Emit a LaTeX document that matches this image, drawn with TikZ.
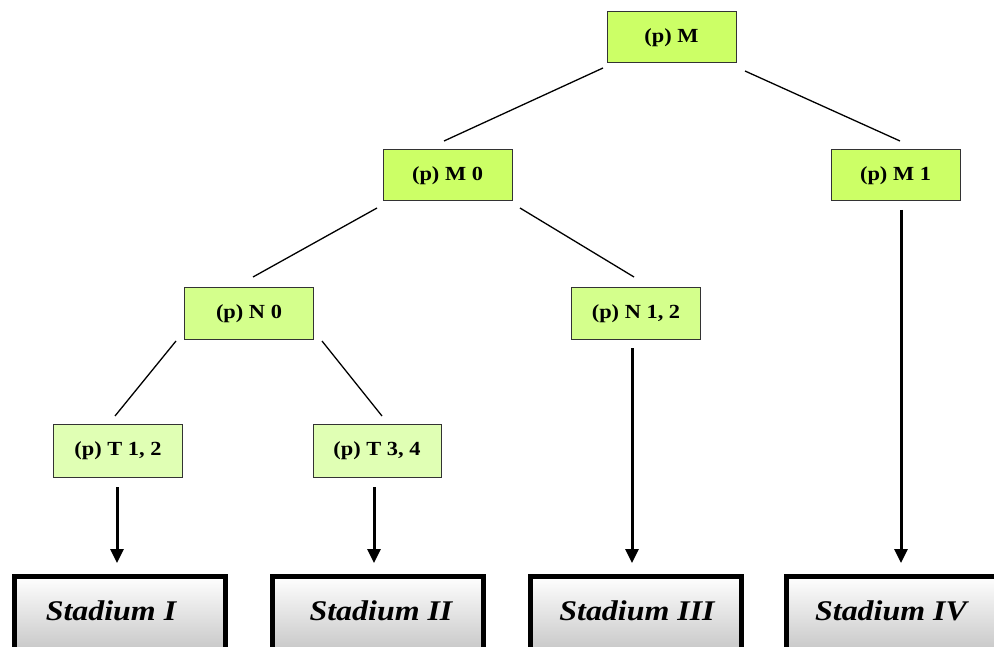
\documentclass[tikz,border=0pt]{standalone}
\usepackage{fontspec}
\setmainfont{Liberation Serif}
\newfontfamily\boxfont[FakeStretch=1.12]{Liberation Serif}
\usetikzlibrary{arrows.meta}
\definecolor{gM}{RGB}{204,255,102}
\definecolor{gN}{RGB}{212,255,140}
\definecolor{gT}{RGB}{224,255,180}
\tikzset{
  gbox/.style={draw=black!80, line width=1pt, minimum width=129pt, minimum height=51pt, inner sep=0pt,
    font=\boxfont\fontsize{20pt}{22pt}\selectfont\bfseries},
  link/.style={line width=1.3pt},
  arr/.style={line width=3pt, -{Triangle[width=13pt,length=14pt]}},
  stad/.style={draw=black, line width=5pt, top color=white, bottom color=black!32, minimum width=211pt, minimum height=110pt, anchor=north, inner sep=0pt},
  stext/.style={font=\boxfont\fontsize{28.5pt}{30pt}\selectfont\bfseries\itshape}
}
\begin{document}
\begin{tikzpicture}[x=1pt,y=-1pt]
\useasboundingbox (0,0) rectangle (994,647);
\clip (0,0) rectangle (994,647);
\fill[white] (0,0) rectangle (994,647);
% green nodes
\node[gbox, fill=gM] (M) at (671.5,37.5) {\raisebox{-1.5pt}{(p) M}};
\node[gbox, fill=gM] (M0) at (447.5,175.5) {\raisebox{-1.5pt}{(p) M 0}};
\node[gbox, fill=gM] (M1) at (895.5,175.5) {\raisebox{-1.5pt}{(p) M 1}};
\node[gbox, fill=gN] (N0) at (249,313.5) {\raisebox{-1.5pt}{(p) N 0}};
\node[gbox, fill=gN] (N12) at (636,313.5) {\raisebox{-1.5pt}{(p) N 1, 2}};
\node[gbox, fill=gT, minimum height=53pt] (T12) at (118,450.5) {\raisebox{-1.5pt}{(p) T 1, 2}};
\node[gbox, fill=gT, minimum height=53pt, minimum width=128pt] (T34) at (377,450.5) {\raisebox{-1.5pt}{(p) T 3, 4}};
% stadium boxes
\node[stad] (S1) at (120,573.5) {};
\node[stad] (S2) at (378,573.5) {};
\node[stad] (S3) at (636,573.5) {};
\node[stad] (S4) at (892,573.5) {};
\node[stext] (L1) at (111,611) {Stadium I};
\node[stext] (L2) at (381,611) {Stadium II};
\node[stext] (L3) at (637,611) {Stadium III};
\node[stext] (L4) at (891,611) {Stadium IV};
% connector ends
\coordinate (aM0s) at (603,68);   \coordinate (aM0e) at (444,141);
\coordinate (aM1s) at (745,71);   \coordinate (aM1e) at (900,141);
\coordinate (aN0s) at (377,208);  \coordinate (aN0e) at (253,277);
\coordinate (aN1s) at (520,208);  \coordinate (aN1e) at (634,277);
\coordinate (aT1s) at (176,341);  \coordinate (aT1e) at (115,416);
\coordinate (aT3s) at (322,341);  \coordinate (aT3e) at (382,416);
\coordinate (b1s) at (117,487);   \coordinate (b1e) at (117,563);
\coordinate (b2s) at (374,487);   \coordinate (b2e) at (374,563);
\coordinate (b3s) at (632,348);   \coordinate (b3e) at (632,563);
\coordinate (b4s) at (901,210);   \coordinate (b4e) at (901,563);
\draw[link] (aM0s) -- (aM0e);
\draw[link] (aM1s) -- (aM1e);
\draw[link] (aN0s) -- (aN0e);
\draw[link] (aN1s) -- (aN1e);
\draw[link] (aT1s) -- (aT1e);
\draw[link] (aT3s) -- (aT3e);
\draw[arr] (b1s) -- (b1e);
\draw[arr] (b2s) -- (b2e);
\draw[arr] (b3s) -- (b3e);
\draw[arr] (b4s) -- (b4e);
\end{tikzpicture}
\end{document}
